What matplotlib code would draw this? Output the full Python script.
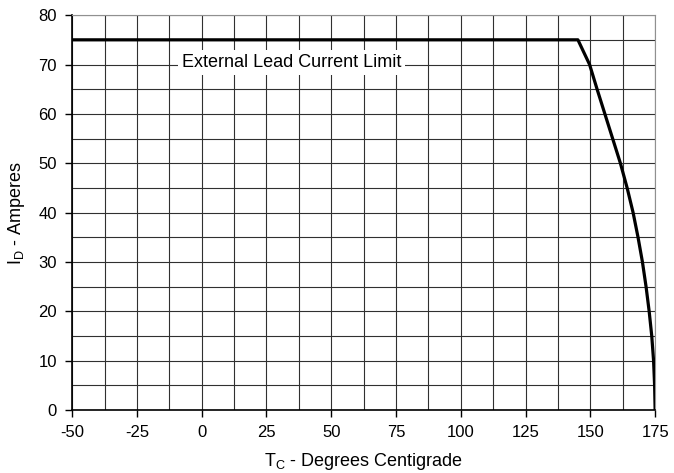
import numpy as np
import matplotlib.pyplot as plt

plt.rcParams['font.family'] = ['Liberation Sans', 'DejaVu Sans']
plt.rcParams['axes.unicode_minus'] = False

# case temperature (C) vs max drain current (A)
tc = [-50, 145.2, 149.7, 152.6, 155.6, 158.6, 161.6, 164.2, 166.5,
      168.4, 170.1, 171.5, 172.7, 173.7, 174.4, 174.8, 175]
id_amps = [75, 75, 70, 65, 60, 55, 50, 45, 40,
           35, 30, 25, 20, 15, 10, 5, 0]

xticks = [-50, -25, 0, 25, 50, 75, 100, 125, 150, 175]
yticks = [0, 10, 20, 30, 40, 50, 60, 70, 80]

fig = plt.figure(figsize=(6.74, 4.73), dpi=100)
ax = fig.add_axes([0.107, 0.133, 0.865, 0.835])

ax.plot(tc, id_amps, color='black', lw=2.3, zorder=3)

ax.set_xlim(-50, 175)
ax.set_ylim(0, 80)
ax.set_xticks(xticks)
ax.set_yticks(yticks)
ax.set_xticks(np.arange(-50, 176, 12.5), minor=True)
ax.set_yticks(np.arange(0, 81, 5), minor=True)
ax.tick_params(which='minor', length=0)
ax.tick_params(which='major', direction='out', length=5, width=1,
               labelsize=12, pad=6)
ax.grid(which='both', color='#303030', lw=0.8)
ax.set_axisbelow(True)

for s in ['top', 'right']:
    ax.spines[s].set_color('#909090')
for s in ['left', 'bottom']:
    ax.spines[s].set_color('black')
    ax.spines[s].set_linewidth(1.2)

ax.text(34.7, 70.4, 'External Lead Current Limit', fontsize=13,
        ha='center', va='center', zorder=4,
        bbox=dict(facecolor='white', edgecolor='none', pad=3))

ax.set_xlabel('T$_\\mathregular{C}$ - Degrees Centigrade', fontsize=13, labelpad=8)
ax.set_ylabel('I$_\\mathregular{D}$ - Amperes', fontsize=13, labelpad=8)

fig.savefig('out.png', dpi=100)
